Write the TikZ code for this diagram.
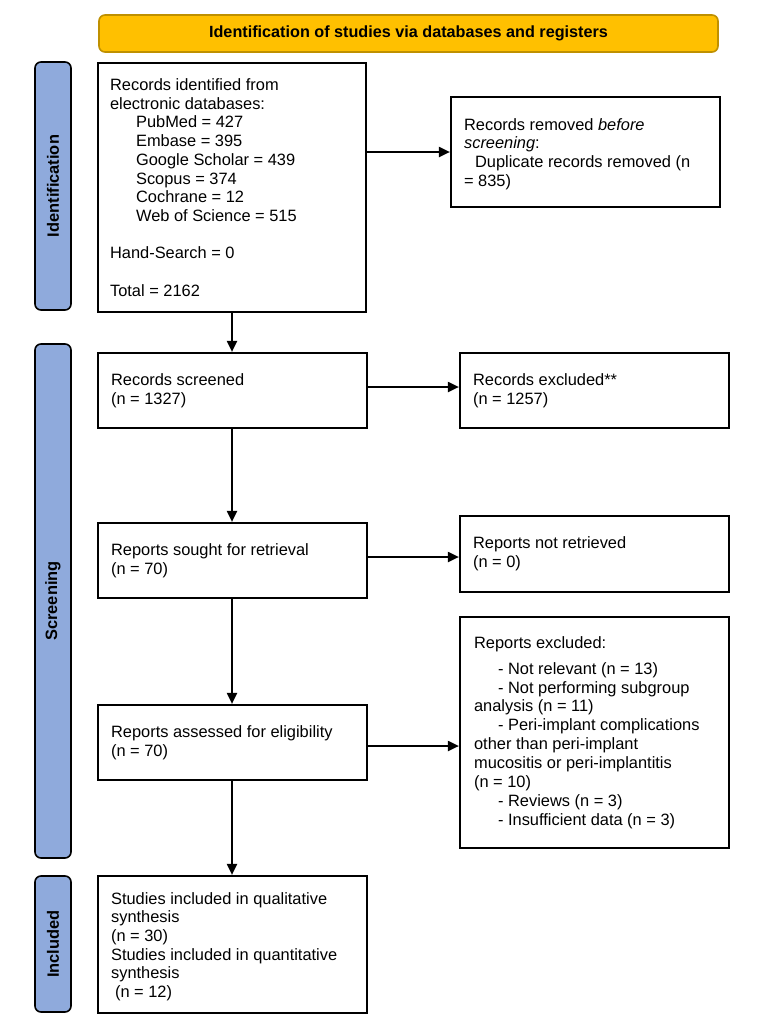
\documentclass[tikz,border=0pt]{standalone}
\usepackage{fontspec}
\setmainfont{Liberation Sans}
\usetikzlibrary{arrows.meta}
\definecolor{bannerfill}{RGB}{255,192,0}
\definecolor{bannerdraw}{RGB}{191,144,0}
\definecolor{barfill}{RGB}{143,170,220}
\begin{document}
\begin{tikzpicture}[x=1pt,y=-1pt,
  box/.style={draw, line width=2.2pt, inner sep=0pt, fill=white},
  txt/.style={anchor=west, align=left, inner sep=0pt, font=\fontsize{16.4}{18.7}\selectfont},
  bar/.style={draw, line width=1.6pt, rounded corners=6pt, fill=barfill, rotate=90, inner sep=0pt,
              minimum height=36pt, font=\fontsize{16.4}{18}\selectfont\bfseries},
  banner/.style={draw=bannerdraw, line width=1.6pt, rounded corners=6pt, fill=bannerfill, inner sep=0pt,
              font=\fontsize{16.2}{18}\selectfont\bfseries},
  arr/.style={line width=2pt, -{Triangle[length=11pt,width=10pt]}}]
\useasboundingbox (0,0) rectangle (769,1028);
\fill[white] (0,0) rectangle (769,1028);

% banner
\node[banner, minimum width=619pt, minimum height=37pt] (banner) at (408.5,33.5)
  {Identification of studies via databases and registers};

% side bars
\node[bar, minimum width=248pt] (idbar) at (53,186) {Identification};
\node[bar, minimum width=514pt] (scbar) at (53,601) {Screening};
\node[bar, minimum width=136pt] (inbar) at (53,944) {Included};

% boxes
\node[box, minimum width=268pt, minimum height=249pt] (b1) at (232,187.5) {};
\node[box, minimum width=269pt, minimum height=110pt] (rem) at (585.5,152) {};
\node[box, minimum width=269pt, minimum height=75pt] (scr) at (232.5,390.5) {};
\node[box, minimum width=269pt, minimum height=75pt] (exc) at (594.5,390.5) {};
\node[box, minimum width=269pt, minimum height=75pt] (sou) at (232.5,560.5) {};
\node[box, minimum width=269pt, minimum height=76pt] (nrt) at (594.5,554) {};
\node[box, minimum width=269pt, minimum height=75pt] (ass) at (232.5,742.5) {};
\node[box, minimum width=269pt, minimum height=231pt] (rex) at (594.5,732.5) {};
\node[box, minimum width=269pt, minimum height=137pt] (inc) at (232.5,944.5) {};

% texts
\node[txt] (b1t) at ([xshift=13pt]b1.west) {Records identified from\\
electronic databases:\\
\hspace*{26pt}PubMed = 427\\
\hspace*{26pt}Embase = 395\\
\hspace*{26pt}Google Scholar = 439\\
\hspace*{26pt}Scopus = 374\\
\hspace*{26pt}Cochrane = 12\\
\hspace*{26pt}Web of Science = 515\\[18.7pt]
Hand-Search = 0\\[18.7pt]
Total = 2162};
\node[txt] (remt) at ([xshift=14pt,yshift=-2pt]rem.west) {Records removed \textit{before}\\
\textit{screening}:\\
\hspace*{11pt}Duplicate records removed (n\\
= 835)};
\node[txt] (scrt) at ([xshift=14pt]scr.west) {Records screened\\(n = 1327)};
\node[txt] (exct) at ([xshift=14pt]exc.west) {Records excluded**\\(n = 1257)};
\node[txt] (sout) at ([xshift=14pt]sou.west) {Reports sought for retrieval\\(n = 70)};
\node[txt] (nrtt) at ([xshift=14pt]nrt.west) {Reports not retrieved\\(n = 0)};
\node[txt] (asst) at ([xshift=14pt]ass.west) {Reports assessed for eligibility\\(n = 70)};
\node[txt, font=\fontsize{16.4}{18.9}\selectfont] (rext) at ([xshift=15pt]rex.west) {Reports excluded:\\[7pt]
\hspace*{24pt}- Not relevant (n = 13)\\
\hspace*{24pt}- Not performing subgroup\\
analysis (n = 11)\\
\hspace*{24pt}- Peri-implant complications\\
other than peri-implant\\
mucositis or peri-implantitis\\
(n = 10)\\
\hspace*{24pt}- Reviews (n = 3)\\
\hspace*{24pt}- Insufficient data (n = 3)};
\node[txt] (inct) at ([xshift=14pt,yshift=-2pt]inc.west) {Studies included in qualitative\\
synthesis\\
(n = 30)\\
Studies included in quantitative\\
synthesis\\
\hspace*{4pt}(n = 12)};

% connectors
\draw[arr] (b1.south) -- (b1.south |- scr.north);
\draw[arr] (scr.south -| b1.south) -- (sou.north -| b1.south);
\draw[arr] (sou.south -| b1.south) -- (ass.north -| b1.south);
\draw[arr] (ass.south -| b1.south) -- (inc.north -| b1.south);
\draw[arr] (b1.east |- rem.west) -- (rem.west);
\draw[arr] ([yshift=3.5pt]scr.east) -- ([yshift=3.5pt]scr.east -| exc.west);
\draw[arr] ([yshift=3.5pt]sou.east) -- ([yshift=3.5pt]sou.east -| nrt.west);
\draw[arr] ([yshift=-3.5pt]ass.east) -- ([yshift=-3.5pt]ass.east -| rex.west);
\end{tikzpicture}
\end{document}
